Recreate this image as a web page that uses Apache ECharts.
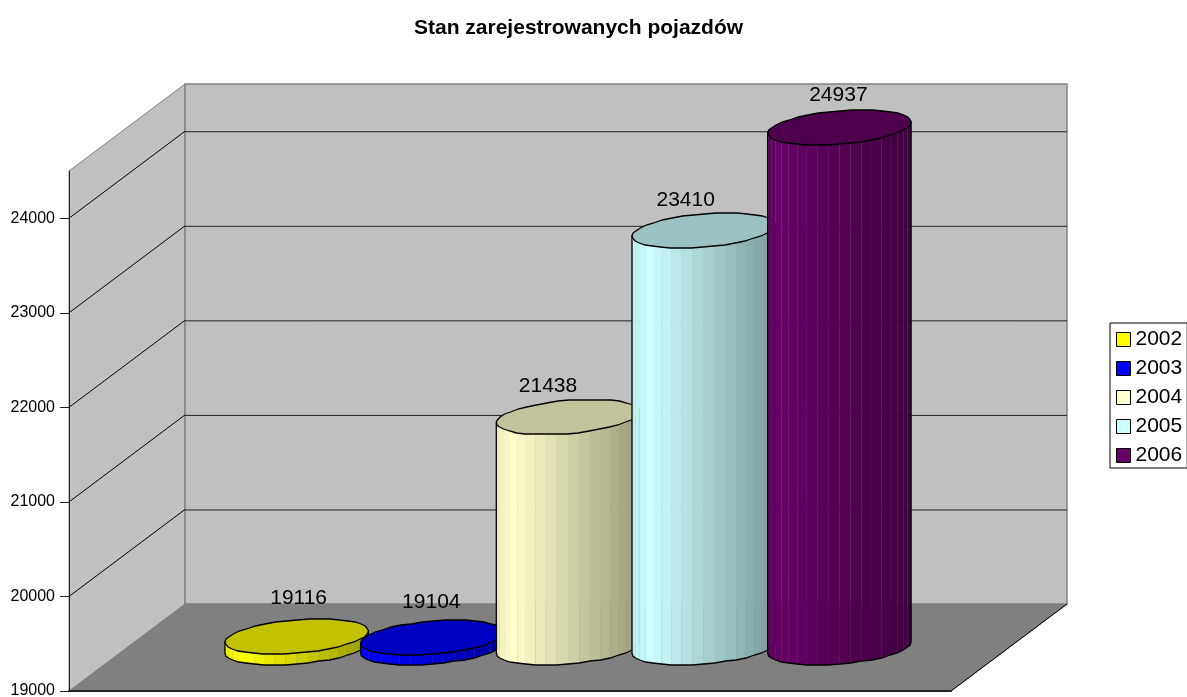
<!DOCTYPE html>
<html>
<head>
<meta charset="utf-8">
<style>
  html, body { margin: 0; padding: 0; background: #fff; }
  #chart { width: 1187px; height: 697px; }
</style>
<script src="https://cdn.jsdelivr.net/npm/echarts@6/dist/echarts.min.js"></script>
</head>
<body>
<div id="chart"></div>
<script>
const categories = [''];
const years = ['2002', '2003', '2004', '2005', '2006'];
const values = [19116, 19104, 21438, 23410, 24937];
const colors = ['#ffff00', '#0000ff', '#ffffcc', '#ccffff', '#660066'];
const yTicks = [19000, 20000, 21000, 22000, 23000, 24000];
const yMin = 19000;
const yMax = 24500;

// wall depth of the fake 3d box, in pixels
const DEPTH_X = 116;
const DEPTH_Y = 87;
// gap width 150% as in the office chart: 5 cylinders + 1.5 of gap
const GAP = 1.5;
// hand placed label shifts from the top of each cylinder
const labelShift = [[2, -38], [-1, -35], [-20, -31], [-18, -30], [-1, -32]];

const FONT = '"Liberation Sans", Arial, sans-serif';

function shade(hex, k) {
  const n = parseInt(hex.slice(1), 16);
  const r = Math.round(((n >> 16) & 255) * k);
  const g = Math.round(((n >> 8) & 255) * k);
  const b = Math.round((n & 255) * k);
  return `rgb(${r},${g},${b})`;
}

function renderWalls(params, api) {
  const g = params.coordSys;
  const x0 = g.x, x1 = g.x + g.width;
  const yBottom = api.coord([0, yMin])[1];
  const yTop = api.coord([0, yMax])[1];
  const dx = DEPTH_X, dy = DEPTH_Y;
  const children = [
    // floor
    { type: 'polygon', shape: { points: [[x0, yBottom], [x1, yBottom], [x1 + dx, yBottom - dy], [x0 + dx, yBottom - dy]] },
      style: { fill: '#808080', stroke: '#707070', lineWidth: 1 } },
    // left wall
    { type: 'polygon', shape: { points: [[x0, yBottom], [x0 + dx, yBottom - dy], [x0 + dx, yTop - dy], [x0, yTop]] },
      style: { fill: '#c0c0c0', stroke: '#808080', lineWidth: 1 } },
    // back wall
    { type: 'polygon', shape: { points: [[x0 + dx, yBottom - dy], [x1 + dx, yBottom - dy], [x1 + dx, yTop - dy], [x0 + dx, yTop - dy]] },
      style: { fill: '#c0c0c0', stroke: '#808080', lineWidth: 1.5 } },
    // right edge of the floor
    { type: 'line', shape: { x1: x1, y1: yBottom, x2: x1 + dx, y2: yBottom - dy }, style: { stroke: '#000', lineWidth: 1 } }
  ];
  yTicks.slice(1).forEach(v => {
    const y = api.coord([0, v])[1];
    children.push({ type: 'line', shape: { x1: x0, y1: y, x2: x0 + dx, y2: y - dy }, style: { stroke: '#000', lineWidth: 1 } });
    children.push({ type: 'line', shape: { x1: x0 + dx, y1: y - dy + 0.5, x2: x1 + dx, y2: y - dy + 0.5 }, style: { stroke: '#222', lineWidth: 1 } });
  });
  return { type: 'group', children };
}

function renderCylinder(idx) {
  return function (params, api) {
    const band = api.size([1, 0])[0];
    const step = band / (years.length + GAP);
    const value = api.value(1);
    const base = api.coord([0, yMin]);
    const top = api.coord([0, Math.min(value, yMax)]);
    const cx = base[0] + (idx - (years.length - 1) / 2) * step + DEPTH_X / 2;
    const cyBottom = base[1] - DEPTH_Y / 2;
    const cyTop = top[1] - DEPTH_Y / 2;

    // circle on the floor plane: radius along x plus a slanted depth vector
    const a = step / 2, bx = DEPTH_X * 0.2, by = DEPTH_Y * 0.2;
    const t0 = Math.atan2(bx, a);
    const halfWidth = Math.hypot(a, bx);
    // the reference outline is a little lumpy, y snaps to whole pixels
    const pt = (cy, t) => [cx + a * Math.cos(t) + bx * Math.sin(t), Math.round(cy - by * Math.sin(t))];

    const children = [];
    // front half, left tangent to right tangent
    const STRIPS = 20;
    const color = colors[idx];
    const angleAt = i => Math.PI + t0 + (Math.PI * i) / STRIPS;
    for (let i = 0; i < STRIPS; i++) {
      const p1 = pt(cyBottom, angleAt(i)), p2 = pt(cyBottom, angleAt(i + 1));
      const p3 = pt(cyTop, angleAt(i + 1)), p4 = pt(cyTop, angleAt(i));
      // light peaks near the left edge, then falls off across the width
      const f = ((p1[0] + p2[0]) / 2 - cx + halfWidth) / (2 * halfWidth);
      const k = f < 0.12 ? 0.93 + f * 0.58 : 1 - (f - 0.12) * 0.45;
      const c = shade(color, k);
      children.push({ type: 'polygon', shape: { points: [p1, p2, p3, p4] }, style: { fill: c, stroke: c, lineWidth: 0.2 } });
    }
    // outline of the side
    const outline = [];
    for (let i = 0; i <= STRIPS; i++) outline.push(pt(cyBottom, angleAt(i)));
    outline.push(pt(cyTop, angleAt(STRIPS)));
    outline.push(pt(cyTop, angleAt(0)));
    children.push({ type: 'polygon', shape: { points: outline }, style: { fill: 'none', stroke: '#000', lineWidth: 1.3 } });
    // top cap
    const cap = [];
    for (let i = 0; i < STRIPS * 2; i++) cap.push(pt(cyTop, (Math.PI * i) / STRIPS));
    children.push({ type: 'polygon', shape: { points: cap }, style: { fill: shade(color, 0.76), stroke: '#000', lineWidth: 1.3 } });
    // value label
    children.push({
      type: 'text',
      style: {
        text: String(value), x: cx + labelShift[idx][0], y: cyTop + labelShift[idx][1],
        align: 'center', verticalAlign: 'middle', fill: '#000', font: '21px ' + FONT
      }
    });
    return { type: 'group', children };
  };
}

const chart = echarts.init(document.getElementById('chart'));

chart.setOption({
  backgroundColor: '#fff',
  animation: false,
  title: {
    text: 'Stan zarejestrowanych pojazdów',
    left: 414,
    top: 18,
    padding: 0,
    textStyle: { fontFamily: FONT, fontSize: 21, fontWeight: 'bold', color: '#000' }
  },
  legend: {
    orient: 'vertical',
    left: 1110,
    top: 323,
    padding: [6, 5, 2, 6],
    itemWidth: 14,
    itemHeight: 14,
    itemGap: 8,
    selectedMode: false,
    backgroundColor: '#fff',
    borderColor: '#000',
    borderWidth: 1,
    textStyle: { fontFamily: FONT, fontSize: 21, color: '#000' },
    data: years.map((name, i) => ({
      name, icon: 'rect',
      itemStyle: { color: colors[i], borderColor: '#000', borderWidth: 1 }
    }))
  },
  grid: { left: 69, right: 236, top: 171, bottom: 6, outerBoundsMode: 'none' },
  xAxis: {
    type: 'category',
    data: categories,
    z: 5,
    axisLine: { lineStyle: { color: '#222', width: 2 } },
    axisTick: { show: false },
    axisLabel: { show: false }
  },
  yAxis: {
    type: 'value',
    min: yMin,
    max: yMax,
    interval: 1000,
    z: 5,
    splitLine: { show: false },
    axisLine: { show: true, lineStyle: { color: '#222', width: 1 } },
    axisTick: { show: true, length: 9, customValues: yTicks, lineStyle: { color: '#222' } },
    axisLabel: { customValues: yTicks, margin: 14, fontFamily: FONT, fontSize: 16, color: '#000', formatter: v => String(v) }
  },
  series: [
    { name: 'walls', type: 'custom', silent: true, data: [[0, yMin]], renderItem: renderWalls, z: 1 }
  ].concat(years.map((name, i) => ({
    name,
    type: 'custom',
    silent: true,
    z: 2,
    itemStyle: { color: colors[i] },
    encode: { x: 0, y: 1 },
    data: [[0, values[i]]],
    renderItem: renderCylinder(i)
  })))
});

window.addEventListener('resize', () => chart.resize());
</script>
</body>
</html>
